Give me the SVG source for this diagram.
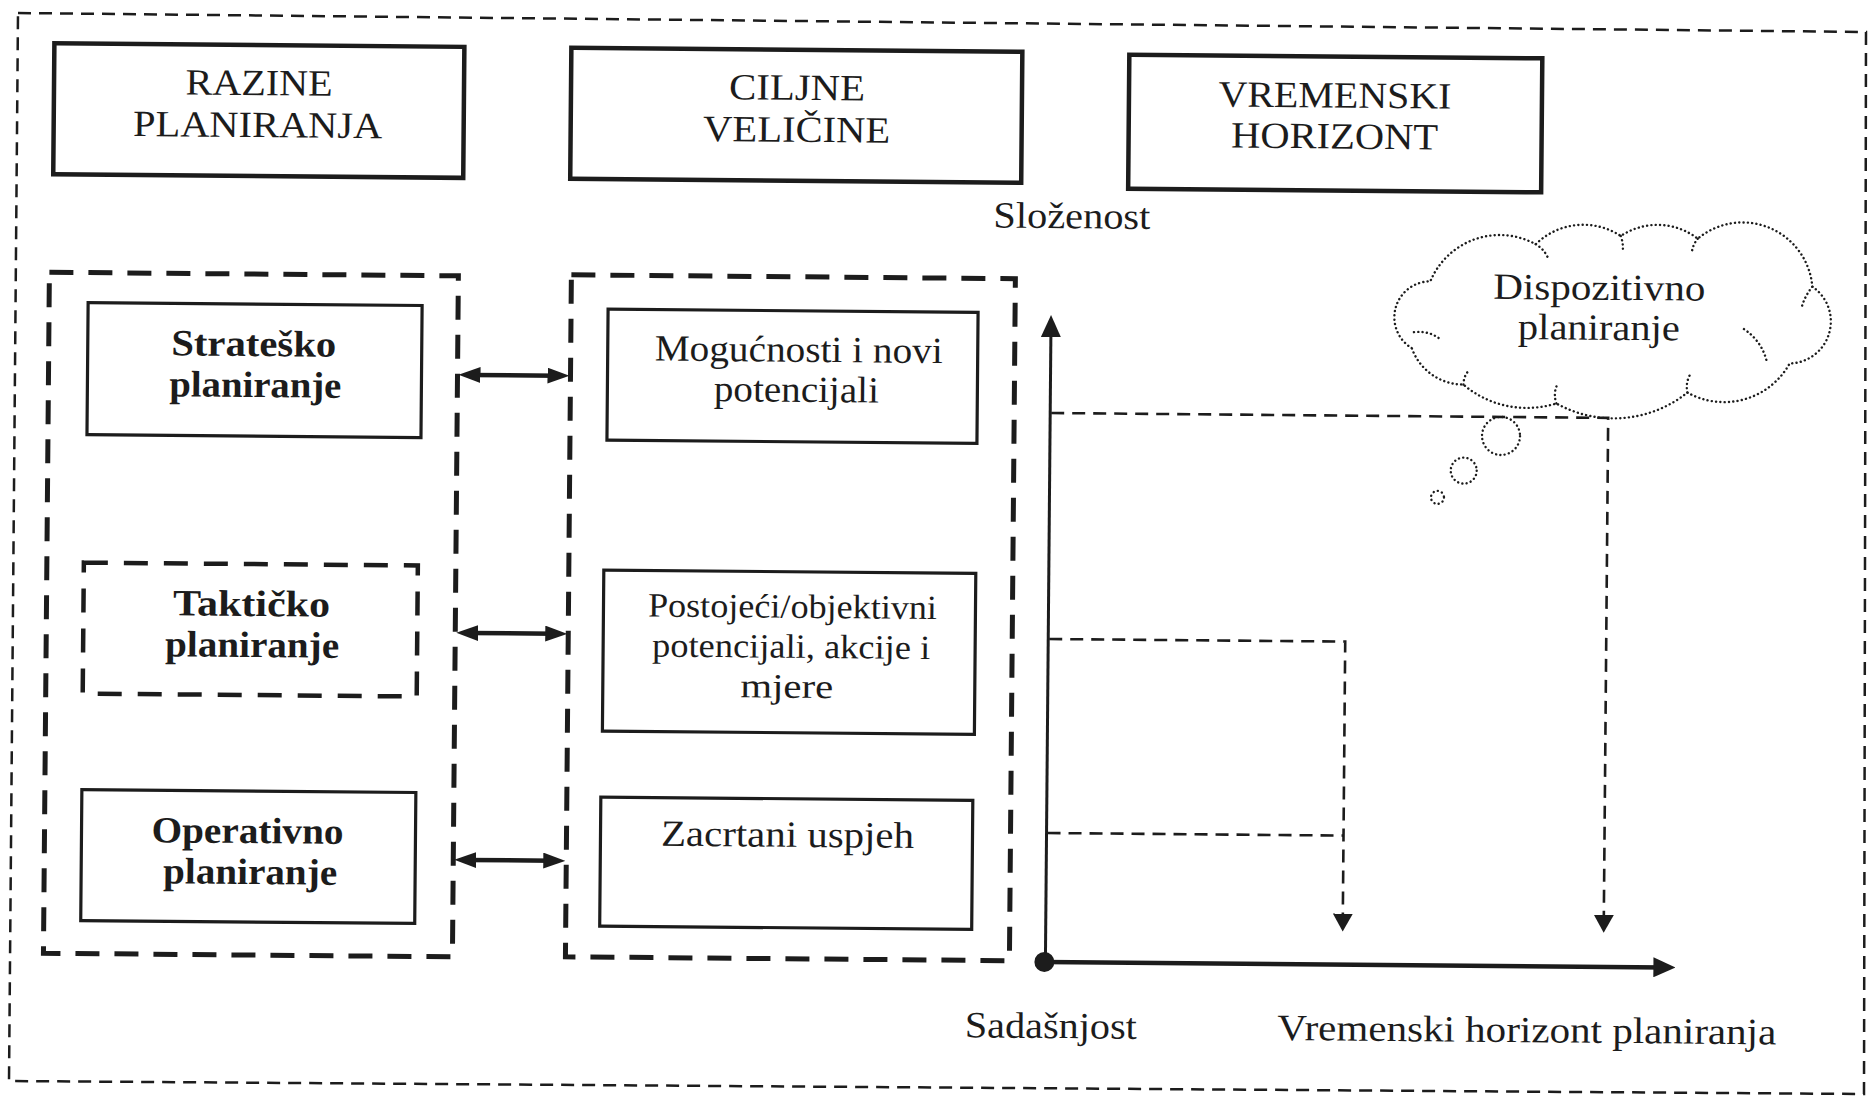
<svg xmlns="http://www.w3.org/2000/svg" width="1869" height="1100" viewBox="0 0 1869 1100">
<defs>
<style>
.t{font-family:"Liberation Serif","Times New Roman",serif;font-size:37px;fill:#1c1c1c;text-anchor:middle}
.s{font-size:34px}
.b{font-weight:bold}
.box{fill:none;stroke:#1c1c1c;stroke-width:3.2}
.top{fill:none;stroke:#1c1c1c;stroke-width:4.5}
.grp{fill:none;stroke:#1c1c1c;stroke-width:5;stroke-dasharray:24 15}
.dbox{fill:none;stroke:#1c1c1c;stroke-width:4.5;stroke-dasharray:24 16}
.frame{fill:none;stroke:#1c1c1c;stroke-width:2.5;stroke-dasharray:13 8}
.dash{fill:none;stroke:#1c1c1c;stroke-width:2.6;stroke-dasharray:13 8}
.dot{fill:none;stroke:#1c1c1c;stroke-width:2.4;stroke-dasharray:0.1 4.2;stroke-linecap:round}
.arr{fill:none;stroke:#1c1c1c;stroke-width:4.5}
.axis{fill:none;stroke:#1c1c1c;stroke-width:3}
.axh{fill:none;stroke:#1c1c1c;stroke-width:4.5}
</style>
<marker id="ha" viewBox="0 0 22 16" refX="10" refY="8" markerWidth="22" markerHeight="16" markerUnits="userSpaceOnUse" orient="auto-start-reverse"><path d="M0,0L22,8L0,16z" fill="#1c1c1c"/></marker>
<marker id="hx" viewBox="0 0 22 20" refX="10" refY="10" markerWidth="22" markerHeight="20" markerUnits="userSpaceOnUse" orient="auto"><path d="M0,0L22,10L0,20z" fill="#1c1c1c"/></marker>
<marker id="hd" viewBox="0 0 18 20" refX="6" refY="10" markerWidth="18" markerHeight="20" markerUnits="userSpaceOnUse" orient="auto"><path d="M0,0L18,10L0,20z" fill="#1c1c1c"/></marker>
</defs>
<rect width="1869" height="1100" fill="#fff"/>
<g id="frame"><path class="frame" d="M18,13 L1866,32 L1864,1094 L9,1081 Z"/></g>
<g transform="rotate(0.5 934 550)">
<g id="n-razine"><rect class="top" x="50" y="51" width="410" height="131"/>
<text class="t" x="255" y="101" textLength="147" lengthAdjust="spacingAndGlyphs">RAZINE</text>
<text class="t" x="254" y="143" textLength="249" lengthAdjust="spacingAndGlyphs">PLANIRANJA</text></g>
<g id="n-ciljne"><rect class="top" x="567" y="51" width="451" height="131"/>
<text class="t" x="793" y="101" textLength="136" lengthAdjust="spacingAndGlyphs">CILJNE</text>
<text class="t" x="793" y="143" textLength="187" lengthAdjust="spacingAndGlyphs">VELIČINE</text></g>
<g id="n-vremenski"><rect class="top" x="1125" y="53" width="413" height="134"/>
<text class="t" x="1331" y="104" textLength="233" lengthAdjust="spacingAndGlyphs">VREMENSKI</text>
<text class="t" x="1331" y="145" textLength="207" lengthAdjust="spacingAndGlyphs">HORIZONT</text></g>
<g id="l-slozenost"><text class="t" x="1069" y="227" textLength="157" lengthAdjust="spacingAndGlyphs">Složenost</text></g>

<g id="g-razine"><rect class="grp" x="47" y="280" width="409" height="681"/></g>
<g id="n-strateg"><rect class="box" x="86" y="310" width="334" height="132"/>
<text class="t b" x="252" y="362" textLength="165" lengthAdjust="spacingAndGlyphs">Strateško</text>
<text class="t b" x="254" y="403" textLength="172" lengthAdjust="spacingAndGlyphs">planiranje</text></g>
<g id="n-takt"><rect class="dbox" x="84" y="570" width="334" height="131"/>
<text class="t b" x="252" y="622" textLength="157" lengthAdjust="spacingAndGlyphs">Taktičko</text>
<text class="t b" x="253" y="663" textLength="174" lengthAdjust="spacingAndGlyphs">planiranje</text></g>
<g id="n-oper"><rect class="box" x="84" y="797" width="334" height="131"/>
<text class="t b" x="250" y="849" textLength="192" lengthAdjust="spacingAndGlyphs">Operativno</text>
<text class="t b" x="253" y="890" textLength="174" lengthAdjust="spacingAndGlyphs">planiranje</text></g>

<g id="g-ciljne"><rect class="grp" x="569" y="278" width="444" height="682"/></g>
<g id="n-moguc"><rect class="box" x="606" y="312" width="370" height="131"/>
<text class="t" x="797" y="363" textLength="288" lengthAdjust="spacingAndGlyphs">Mogućnosti i novi</text>
<text class="t" x="795" y="403" textLength="165" lengthAdjust="spacingAndGlyphs">potencijali</text></g>
<g id="n-postoj"><rect class="box" x="604" y="573" width="372" height="161"/>
<text class="t s" x="793" y="619" textLength="289" lengthAdjust="spacingAndGlyphs">Postojeći/objektivni</text>
<text class="t s" x="792" y="659" textLength="278" lengthAdjust="spacingAndGlyphs">potencijali, akcije i</text>
<text class="t s" x="788" y="699" textLength="93" lengthAdjust="spacingAndGlyphs">mjere</text></g>
<g id="n-zacrt"><rect class="box" x="603" y="800" width="372" height="129"/>
<text class="t" x="790" y="848" textLength="253" lengthAdjust="spacingAndGlyphs">Zacrtani uspjeh</text></g>

<g id="connectors">
<line class="arr" x1="469" y1="379" x2="556" y2="379" marker-start="url(#ha)" marker-end="url(#ha)"/>
<line class="arr" x1="469" y1="637" x2="556" y2="637" marker-start="url(#ha)" marker-end="url(#ha)"/>
<line class="arr" x1="469" y1="864" x2="556" y2="864" marker-start="url(#ha)" marker-end="url(#ha)"/>
<line class="axis" x1="1049" y1="961" x2="1049" y2="326" marker-end="url(#hx)"/>
<line class="axh" x1="1048" y1="961" x2="1667" y2="961" marker-end="url(#hx)"/>
<circle cx="1048" cy="961" r="10" fill="#1c1c1c"/>
<path class="dash" d="M1050,412 H1607 V915" marker-end="url(#hd)"/>
<path class="dash" d="M1050,638 H1346 V916" marker-end="url(#hd)"/>
<path class="dash" d="M1050,832 H1346"/>
</g>

<g id="n-cloud">
<path class="dot" d="M1410,344 A36,36 0 0 1 1428,277 A75,75 0 0 1 1533,239 A68,68 0 0 1 1618,230 A66,66 0 0 1 1695,232 A70,70 0 0 1 1810,279 A42,42 0 0 1 1788,356 A75,75 0 0 1 1686,386 A118,118 0 0 1 1555,398 A98,98 0 0 1 1462,380 A55,55 0 0 1 1410,344 Z"/>
<path class="dot" d="M1412,328 Q1428,326 1440,336 M1533,239 Q1542,244 1546,254 M1618,230 Q1621,238 1620,246 M1695,232 Q1690,238 1689,247 M1810,279 Q1803,288 1800,298 M1742,322 Q1760,334 1765,354 M1686,386 Q1684,377 1688,369 M1555,398 Q1552,389 1555,381 M1462,380 Q1462,371 1468,365"/>
<circle class="dot" cx="1500" cy="431" r="19"/>
<circle class="dot" cx="1463" cy="466" r="13"/>
<circle class="dot" cx="1437" cy="493" r="6.5"/>
<text class="t" x="1597" y="294" textLength="212" lengthAdjust="spacingAndGlyphs">Dispozitivno</text>
<text class="t" x="1597" y="334" textLength="162" lengthAdjust="spacingAndGlyphs">planiranje</text>
</g>

<g id="l-axes">
<text class="t" x="1055" y="1037" textLength="172" lengthAdjust="spacingAndGlyphs">Sadašnjost</text>
<text class="t" x="1531" y="1037" textLength="499" lengthAdjust="spacingAndGlyphs">Vremenski horizont planiranja</text>
</g>
</g>
</svg>
